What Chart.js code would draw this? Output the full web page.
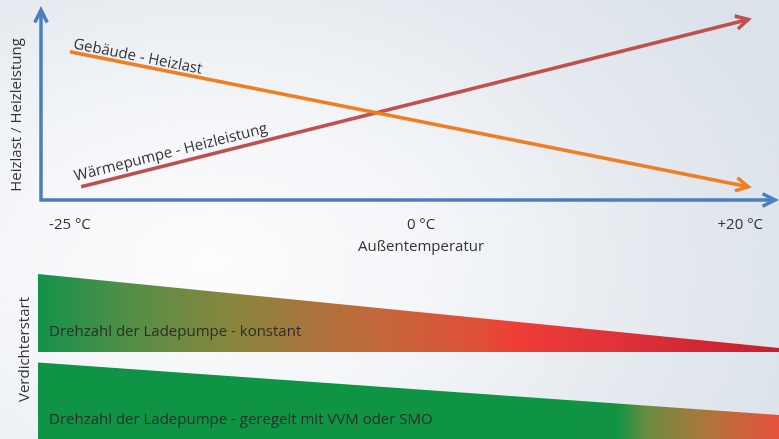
<!DOCTYPE html>
<html lang="de">
<head>
<meta charset="utf-8">
<title>Heizlast und Heizleistung über der Außentemperatur</title>
<script src="https://cdn.jsdelivr.net/npm/chart.js@4.4.1/dist/chart.umd.min.js"></script>
<style>
  html, body { margin: 0; padding: 0; width: 779px; height: 439px; overflow: hidden; }
  body {
    position: relative;
    background: radial-gradient(ellipse 80% 95% at 27% 60%, #fdfdfe 0%, #f3f5f8 38%, #e4e9ef 75%, #dce2ea 100%);
  }
  #curvesBox { position: absolute; left: 0; top: 0; width: 779px; height: 260px; }
  #bandsBox  { position: absolute; left: 0; top: 260px; width: 779px; height: 179px; }
</style>
</head>
<body>
<div id="curvesBox"><canvas id="curves"></canvas></div>
<div id="bandsBox"><canvas id="bands"></canvas></div>
<script>
// ---- Outdoor temperature axis (°C) ----
const tempTicks = [-25, 0, 20];
const tempTickLabels = ['-25 °C', '0 °C', '+20 °C'];
const tempMin = -27.06;
const tempMax = 22.31;

// ---- Building heat load and heat pump output (relative units 0–100) ----
const heatLoadTemps  = [-25, 20.5];
const heatLoadValues = [78, 7];
const heatPumpTemps  = [-24.2, 20.5];
const heatPumpValues = [7, 95];

// ---- Compressor start bands (relative units 0–100) at both ends of the range ----
const bandTemps         = [tempMin, tempMax];
const constantBandTop   = [92.2, 50.8];
const constantBandBase  = [48.6, 48.6];
const controlledBandTop = [42.8, 13.4];

// ---- Axis captions ----
const xCaption = 'Außentemperatur';
const yCaption = 'Heizlast / Heizleistung';

// ---- Colours ----
const axisBlue    = '#4a7ebf';
const loadOrange  = '#ef7d22';
const pumpRed     = '#c0504d';
const textGrey    = '#333333';
const constantStops = [
  [0.000, '#13924a'], [0.128, '#568e45'], [0.263, '#88863d'], [0.398, '#b26f3b'],
  [0.466, '#c4673a'], [0.596, '#e04f37'], [0.644, '#ef3d36'], [0.772, '#e0333a'],
  [0.866, '#d32a35'], [1.000, '#c6202f']
];
const controlledStops = [
  [0.000, '#0e9444'], [0.780, '#109444'], [0.822, '#6a8b41'], [0.890, '#a47a3c'],
  [0.957, '#d0603a'], [1.000, '#e6513a']
];

const fontFamily = "'Open Sans', 'Noto Sans', sans-serif";
Chart.defaults.font.family = fontFamily;
Chart.defaults.color = textGrey;

// Temperature scale of the schematic: the frost side is drawn slightly compressed
const COLD_SIDE_FACTOR = 0.88;
class SchematicTempScale extends Chart.LinearScale {
  static id = 'schematicTemp';
  static defaults = Chart.LinearScale.defaults;
  _warp(v) { return v < 0 ? v * COLD_SIDE_FACTOR : v; }
  _unwarp(u) { return u < 0 ? u / COLD_SIDE_FACTOR : u; }
  getPixelForValue(value) {
    if (value === null || value === undefined) return NaN;
    const a = this._warp(this.min), b = this._warp(this.max);
    return this.getPixelForDecimal((this._warp(value) - a) / (b - a));
  }
  getValueForPixel(pixel) {
    const a = this._warp(this.min), b = this._warp(this.max);
    return this._unwarp(a + this.getDecimalForPixel(pixel) * (b - a));
  }
}
Chart.register(SchematicTempScale);

function toPoints(xs, ys) { return xs.map((x, i) => ({ x, y: ys[i] })); }

// open arrow head with its tip at (x, y), pointing along angle
function chevron(ctx, x, y, angle, len, spread) {
  ctx.beginPath();
  ctx.moveTo(x - len * Math.cos(angle - spread), y - len * Math.sin(angle - spread));
  ctx.lineTo(x, y);
  ctx.lineTo(x - len * Math.cos(angle + spread), y - len * Math.sin(angle + spread));
  ctx.stroke();
}

const axisArrows = {
  id: 'axisArrows',
  afterDatasetsDraw(chart) {
    const { ctx, chartArea: { left, top, right, bottom } } = chart;
    ctx.save();
    ctx.strokeStyle = axisBlue;
    ctx.lineWidth = 3.5;
    ctx.lineCap = 'butt';
    ctx.lineJoin = 'miter';
    ctx.beginPath();
    ctx.moveTo(left, top + 1);
    ctx.lineTo(left, bottom);
    ctx.lineTo(right - 2, bottom);
    ctx.stroke();
    chevron(ctx, left, top, -Math.PI / 2, 14, 0.46);
    chevron(ctx, right - 2, bottom, 0, 14, 0.46);
    ctx.restore();
  }
};

// axis captions: the temperature caption sits under the 0 °C tick
const axisCaptions = {
  id: 'axisCaptions',
  afterDraw(chart) {
    const { ctx, chartArea } = chart;
    const x = chart.scales.x;
    ctx.save();
    ctx.font = '15px ' + fontFamily;
    ctx.fillStyle = textGrey;
    ctx.textAlign = 'center';
    ctx.textBaseline = 'middle';
    ctx.fillText(xCaption, x.getPixelForValue(0), chartArea.bottom + 47);
    ctx.translate(17, (chartArea.top + chartArea.bottom) / 2 + 10);
    ctx.rotate(-Math.PI / 2);
    ctx.fillText(yCaption, 0, 0);
    ctx.restore();
  }
};

const lineArrowsAndLabels = {
  id: 'lineArrowsAndLabels',
  afterDatasetsDraw(chart) {
    const { ctx } = chart;
    chart.data.datasets.forEach((ds, i) => {
      const pts = chart.getDatasetMeta(i).data;
      if (pts.length < 2) return;
      const first = pts[0], prev = pts[pts.length - 2], last = pts[pts.length - 1];
      const angle = Math.atan2(last.y - prev.y, last.x - prev.x);
      ctx.save();
      ctx.strokeStyle = ds.borderColor;
      ctx.lineWidth = ds.borderWidth;
      ctx.lineJoin = 'miter';
      chevron(ctx, last.x, last.y, angle, 14, 0.5);
      ctx.restore();

      // series name written along the line, just above it
      const a0 = Math.atan2(pts[1].y - first.y, pts[1].x - first.x);
      ctx.save();
      ctx.translate(first.x, first.y);
      ctx.rotate(a0);
      ctx.font = '15px ' + fontFamily;
      ctx.fillStyle = textGrey;
      ctx.textBaseline = 'alphabetic';
      ctx.textAlign = 'left';
      ctx.fillText(ds.label, ds.labelShift, -ds.labelLift);
      ctx.restore();
    });
  }
};

new Chart(document.getElementById('curves'), {
  type: 'line',
  data: {
    datasets: [
      { label: 'Gebäude - Heizlast', data: toPoints(heatLoadTemps, heatLoadValues),
        borderColor: loadOrange, borderWidth: 3.5, pointRadius: 0, fill: false, tension: 0,
        labelShift: 2, labelLift: 4 },
      { label: 'Wärmepumpe - Heizleistung', data: toPoints(heatPumpTemps, heatPumpValues),
        borderColor: pumpRed, borderWidth: 3.5, pointRadius: 0, fill: false, tension: 0,
        labelShift: -4, labelLift: 7 }
    ]
  },
  options: {
    responsive: true,
    maintainAspectRatio: false,
    animation: false,
    layout: { padding: { top: 10, left: 0, right: 0, bottom: 0 } },
    plugins: { legend: { display: false }, tooltip: { enabled: false } },
    scales: {
      x: {
        type: 'schematicTemp',
        min: tempMin,
        max: tempMax,
        afterBuildTicks: s => { s.ticks = tempTicks.map(v => ({ value: v })); },
        afterFit: s => { s.height = 60; },
        grid: { display: false, drawTicks: false },
        border: { display: false },
        ticks: {
          autoSkip: false, maxRotation: 0, padding: 16, color: textGrey,
          font: { size: 15 },
          callback: (v, i) => tempTickLabels[i]
        },
        title: { display: false }
      },
      y: {
        type: 'linear',
        min: 0,
        max: 100,
        afterFit: s => { s.width = 41; },
        grid: { display: false, drawTicks: false },
        border: { display: false },
        ticks: { display: false },
        title: { display: false }
      }
    }
  },
  plugins: [axisArrows, axisCaptions, lineArrowsAndLabels]
});

function bandGradient(chart, stops) {
  const area = chart.chartArea;
  if (!area) return 'rgba(0,0,0,0)';
  const g = chart.ctx.createLinearGradient(area.left, 0, area.right, 0);
  stops.forEach(([f, c]) => g.addColorStop(f, c));
  return g;
}

const bandTexts = {
  id: 'bandTexts',
  afterDatasetsDraw(chart) {
    const { ctx, chartArea } = chart;
    const y = chart.scales.y;
    ctx.save();
    ctx.font = '15px ' + fontFamily;
    ctx.fillStyle = '#2c2c2c';
    ctx.textBaseline = 'middle';
    ctx.textAlign = 'left';
    chart.data.datasets.forEach(ds => {
      if (!ds.text) return;
      ctx.fillText(ds.text, chartArea.left + 11, y.getPixelForValue(ds.textAt));
    });
    ctx.restore();
  }
};

new Chart(document.getElementById('bands'), {
  type: 'line',
  data: {
    datasets: [
      { data: toPoints(bandTemps, constantBandBase), borderColor: 'rgba(0,0,0,0)',
        borderWidth: 0, pointRadius: 0, fill: false },
      { data: toPoints(bandTemps, constantBandTop), borderColor: 'rgba(0,0,0,0)',
        borderWidth: 0, pointRadius: 0, fill: '-1',
        backgroundColor: c => bandGradient(c.chart, constantStops),
        text: 'Drehzahl der Ladepumpe - konstant', textAt: 60 },
      { data: toPoints(bandTemps, controlledBandTop), borderColor: 'rgba(0,0,0,0)',
        borderWidth: 0, pointRadius: 0, fill: 'start',
        backgroundColor: c => bandGradient(c.chart, controlledStops),
        text: 'Drehzahl der Ladepumpe - geregelt mit VVM oder SMO', textAt: 10.6 }
    ]
  },
  options: {
    responsive: true,
    maintainAspectRatio: false,
    animation: false,
    layout: { padding: 0 },
    plugins: { legend: { display: false }, tooltip: { enabled: false } },
    scales: {
      x: { type: 'schematicTemp', min: tempMin, max: tempMax, display: false },
      y: {
        type: 'linear',
        min: 0,
        max: 100,
        afterFit: s => { s.width = 38; },
        grid: { display: false, drawTicks: false },
        border: { display: false },
        ticks: { display: false },
        title: {
          display: true, text: 'Verdichterstart', color: textGrey,
          font: { size: 15 }, padding: { top: 16, bottom: 0 }
        }
      }
    }
  },
  plugins: [bandTexts]
});
</script>
</body>
</html>
